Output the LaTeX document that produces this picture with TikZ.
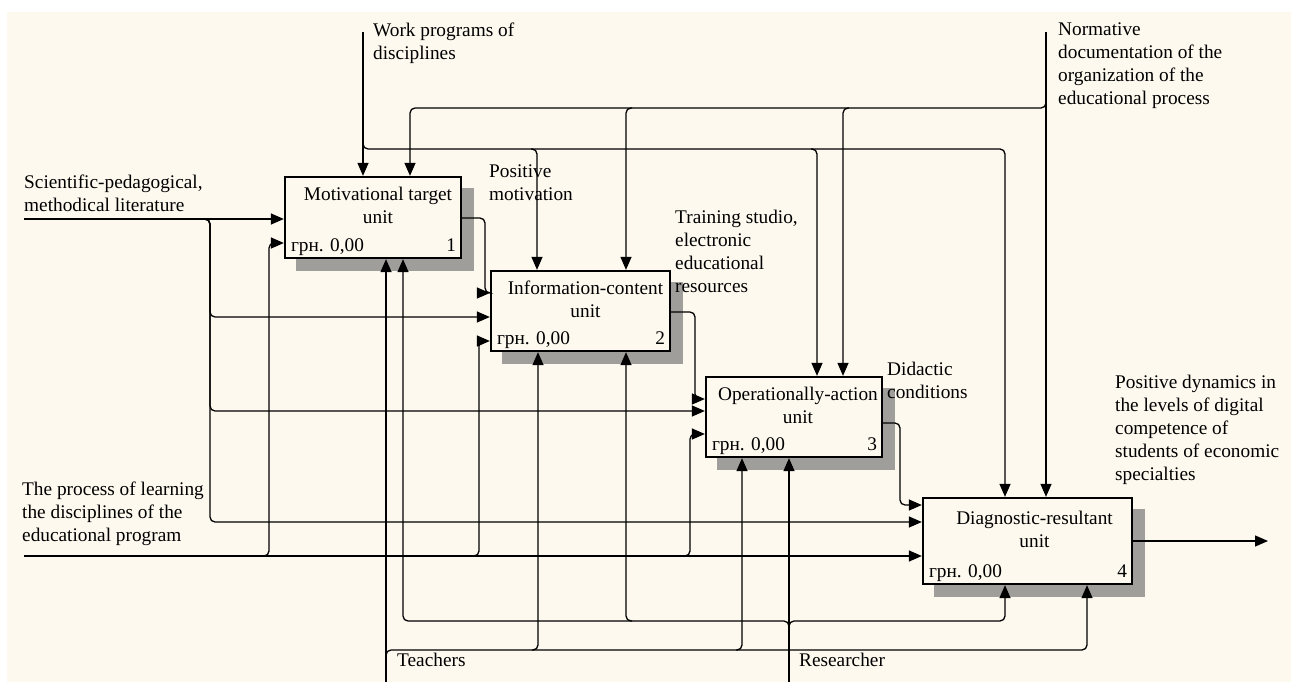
\documentclass[tikz,border=0pt]{standalone}
\usepackage{fontspec}
\setmainfont{Liberation Serif}
\usetikzlibrary{arrows.meta,backgrounds,calc}
\definecolor{cream}{RGB}{253,249,239}
\definecolor{shade}{RGB}{160,158,154}
\begin{document}
\begin{tikzpicture}[x=1pt,y=-1pt,
  every node/.style={inner sep=0pt, font=\fontsize{19.3}{23}\selectfont},
  box/.style={draw, line width=2.3pt, fill=cream, inner sep=0pt},
  ln/.style={line width=1.3pt, rounded corners=5pt},
  arr/.style={ln, -{Triangle[length=13pt,width=11pt]}},
  lbl/.style={anchor=north west, align=left},
  ttl/.style={anchor=north, align=center},
  shadowbox/.style={fill=shade}]
\useasboundingbox (0,0) rectangle (1291,682);

% ---- boxes
\node[box, minimum width=176pt, minimum height=81pt] (b1) at (373,217.5) {};
\node[box, minimum width=179pt, minimum height=80pt] (b2) at (580.5,311) {};
\node[box, minimum width=176pt, minimum height=80pt] (b3) at (794,417) {};
\node[box, minimum width=209pt, minimum height=86pt] (b4) at (1027.5,541) {};

\node[ttl] (t1) at ($(b1.north)+(5,11)$) {Motivational target\\unit};
\node[ttl] (t2) at ($(b2.north)+(5,11)$) {Information-content\\unit};
\node[ttl] (t3) at ($(b3.north)+(4,11)$) {Operationally-action\\unit};
\node[ttl] (t4) at ($(b4.north)+(7,14)$) {Diagnostic-resultant\\unit};

\foreach \b/\n in {b1/1,b2/2,b3/3,b4/4}{
  \node[anchor=base west] (c\n) at ($(\b.south west)+(7,-8)$) {грн. 0,00};
  \node[anchor=base east] (n\n) at ($(\b.south east)+(-6,-8)$) {\n};
}

% ---- background and shadows
\begin{scope}[on background layer]
  \fill[white] (0,0) rectangle (1291,682);
  \fill[cream] (7,12) rectangle (1291,682);
  \foreach \b in {b1,b2,b3,b4}{
    \fill[shadowbox] ($(\b.north west)+(12,12)$) rectangle ($(\b.south east)+(12,12)$);
  }
\end{scope}

% ---- free ends
\coordinate (sciS) at (24,219);
\coordinate (procS) at (24,556);
\coordinate (wpS) at (363,32);
\coordinate (nrS) at (1046,32);
\coordinate (teS) at (386,682);
\coordinate (reS) at (789,682);
\coordinate (outE) at (1268,541);

% ---- inputs
\draw[arr] (sciS) -- (b1.west |- sciS);
\draw[arr] (204,219) -- (210,219) -- (210,317) -- (b2.west |- 0,317);
\draw[arr] (204,219) -- (210,219) -- (210,411) -- (b3.west |- 0,411);
\draw[arr] (204,219) -- (210,219) -- (210,522) -- (b4.west |- 0,522);
\draw[arr] (procS) -- (b4.west |- procS);
\draw[arr] (263,556) -- (269,556) -- (269,243) -- (b1.west |- 0,243);
\draw[arr] (473,556) -- (479,556) -- (479,341) -- (b2.west |- 0,341);
\draw[arr] (684,556) -- (690,556) -- (690,434) -- (b3.west |- 0,434);

% ---- box to box
\draw[ln] (b1.east |- 0,218) -- (485,218) -- (485,293) -- (b2.west |- 0,293);
\draw[arr] (478,293) -- (b2.west |- 0,293);
\draw[arr] (b2.east |- 0,312) -- (695,312) -- (695,399) -- (b3.west |- 0,399);
\draw[arr] (b3.east |- 0,423) -- (900,423) -- (900,505) -- (b4.west |- 0,505);
\draw[arr] (b4.east) -- (outE);

% ---- controls
\draw[arr] (wpS) -- (b1.north -| wpS);
\draw[arr] (363,143) -- (363,149) -- (1005,149) -- (b4.north -| 1005,0);
\draw[arr] (531,149) -- (537,149) -- (b2.north -| 537,0);
\draw[arr] (811,149) -- (817,149) -- (b3.north -| 817,0);
\draw[arr] (nrS) -- (b4.north -| nrS);
\draw[arr] (1046,102) -- (1046,108) -- (410,108) -- (b1.north -| 410,0);
\draw[arr] (632,108) -- (626,108) -- (b2.north -| 626,0);
\draw[arr] (849,108) -- (843,108) -- (b3.north -| 843,0);

% ---- mechanisms
\draw[arr] (teS) -- (b1.south -| teS);
\draw[arr] (386,656) -- (386,650) -- (1087,650) -- (b4.south -| 1087,0);
\draw[arr] (532,650) -- (538,650) -- (b2.south -| 538,0);
\draw[arr] (736,650) -- (742,650) -- (b3.south -| 742,0);
\draw[arr] (reS) -- (b3.south -| reS);
\draw[arr] (789,627) -- (789,621) -- (403,621) -- (b1.south -| 403,0);
\draw[arr] (789,627) -- (789,621) -- (1005,621) -- (b4.south -| 1005,0);
\draw[arr] (632,621) -- (626,621) -- (b2.south -| 626,0);

% ---- labels
\node[lbl] (lwp) at (373,22.5) {Work programs of\\disciplines};
\node[lbl] (lnr) at (1058,23) {Normative\\documentation of the\\organization of the\\educational process};
\node[lbl] (lsci) at (24,174.5) {Scientific-pedagogical,\\methodical literature};
\node[lbl] (lproc) at (22,481.5) {The process of learning\\the disciplines of the\\educational program};
\node[lbl] (lpm) at (489,165) {Positive\\motivation};
\node[lbl] (ltr) at (675,210) {Training studio,\\electronic\\educational\\resources};
\node[lbl] (ldc) at (887,361.5) {Didactic\\conditions};
\node[lbl] (lpd) at (1115,374.5) {Positive dynamics in\\the levels of digital\\competence of\\students of economic\\specialties};
\node[lbl] (lte) at (397,652.5) {Teachers};
\node[lbl] (lre) at (799,652.5) {Researcher};
\end{tikzpicture}
\end{document}
